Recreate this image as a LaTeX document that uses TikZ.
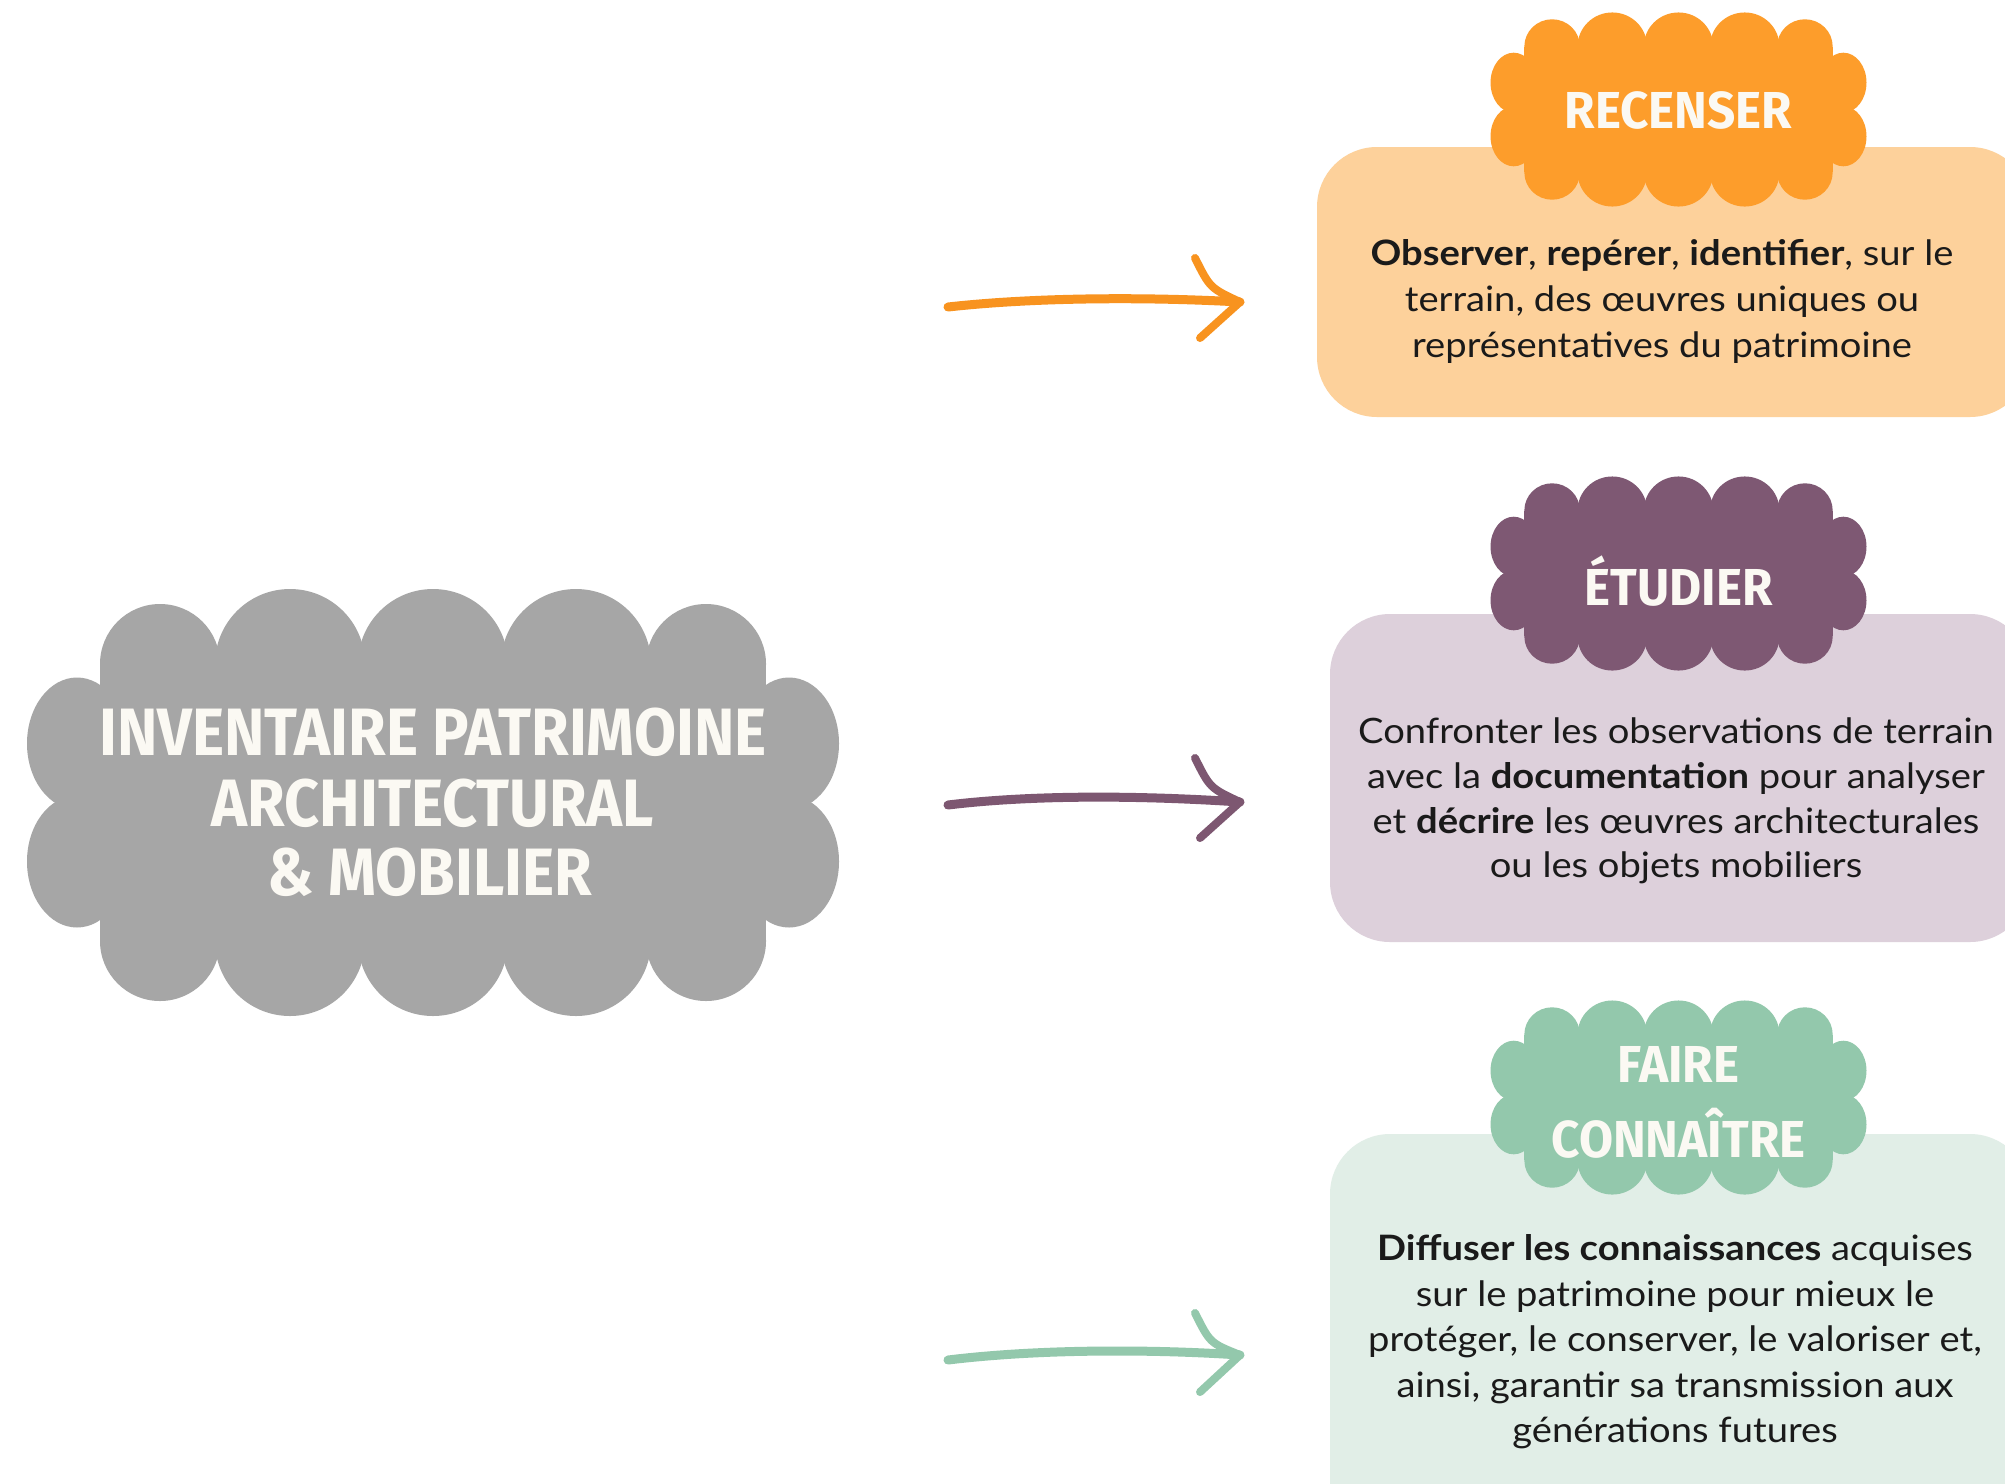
\documentclass[tikz,border=0pt]{standalone}
\usepackage{fontspec}
\usetikzlibrary{calc}
\newfontfamily\headfont[FakeStretch=0.91]{Fira Sans}
\newfontfamily\headfontsm[FakeStretch=0.95]{Fira Sans}
\newfontfamily\bodyfont[FakeStretch=1.09]{Lato}
\definecolor{grayc}{HTML}{A6A6A6}
\definecolor{offw}{HTML}{FBF9F3}
\definecolor{orC}{HTML}{FD9D2B}
\definecolor{orB}{HTML}{FDD19B}
\definecolor{orA}{HTML}{F8931F}
\definecolor{puC}{HTML}{7E5873}
\definecolor{puB}{HTML}{DDD0DB}
\definecolor{puA}{HTML}{7D5771}
\definecolor{grC}{HTML}{93C8AC}
\definecolor{grB}{HTML}{E1EEE7}
\definecolor{grA}{HTML}{93C8AC}
\definecolor{txt}{HTML}{1A1A1A}
\newcommand\cloudfill[1]{%
  \foreach \cx in {-143,0,143}{%
    \fill[#1] (\cx,-138.5) circle[radius=75];
    \fill[#1] (\cx,138.5) circle[radius=75];}
  \foreach \cx in {-273,273}{%
    \fill[#1] (\cx,-138.5) circle[radius=60];
    \fill[#1] (\cx,138.5) circle[radius=60];}
  \foreach \cx in {-356,356}{%
    \fill[#1] (\cx,-59) ellipse[x radius=50,y radius=66];
    \fill[#1] (\cx,59) ellipse[x radius=50,y radius=66];}
  \fill[#1] (-333,-138.5) rectangle (333,138.5);
  \fill[#1] (-356,-59) rectangle (356,59);
}
\begin{document}
\begin{tikzpicture}[x=0.5pt,y=-0.5pt,
  headbig/.style={font=\headfont\bfseries\fontsize{33.5}{35}\selectfont, text=offw, inner sep=0pt, anchor=base},
  headsm/.style={font=\headfontsm\bfseries\fontsize{26}{30}\selectfont, text=offw, inner sep=0pt, anchor=base},
  bodyline/.style={font=\bodyfont\fontsize{17.5}{22}\selectfont, text=txt, inner sep=0pt, anchor=base},
  arrowline/.style={line width=4.5pt, line cap=round, line join=round},
  arrowhead/.style={line width=4pt, line cap=round, line join=round}]
\useasboundingbox (0,0) rectangle (2005,1483);
\clip (0,0) rectangle (2005,1483);
\fill[white] (0,0) rectangle (2005,1483);

% boxes
\fill[orB, rounded corners=30pt] (1317,147) rectangle (2030,417);
\fill[puB, rounded corners=30pt] (1330,614) rectangle (2030,942);
\fill[grB, rounded corners=30pt] (1330,1134) rectangle (2030,1560);

% clouds
\begin{scope}[shift={(433,802.5)}]\cloudfill{grayc}\end{scope}
\begin{scope}[shift={(1678.5,109.5)}, xscale=0.463, yscale=0.4545]\cloudfill{orC}\end{scope}
\begin{scope}[shift={(1678.5,573.5)}, xscale=0.463, yscale=0.4545]\cloudfill{puC}\end{scope}
\begin{scope}[shift={(1678.5,1097.5)}, xscale=0.463, yscale=0.4545]\cloudfill{grC}\end{scope}

% main title
\node[headbig] (t1) at (433,755) {INVENTAIRE PATRIMOINE};
\node[headbig] (t2) at (433,826) {ARCHITECTURAL};
\node[headbig] (t3) at (430,895) {\& MOBILIER};

% headings
\node[headsm] (h1) at (1678.5,128) {RECENSER};
\node[headsm] (h2) at (1678.5,605) {ÉTUDIER};
\node[headsm] (h3a) at (1678.5,1082) {FAIRE};
\node[headsm] (h3b) at (1678.5,1157) {CONNAÎTRE};

% texts
\node[bodyline] (o1) at (1662,265) {\textbf{Observer}, \textbf{repérer}, \textbf{identifier}, sur le};
\node[bodyline] (o2) at (1662,311) {terrain, des œuvres uniques ou};
\node[bodyline] (o3) at (1662,357) {représentatives du patrimoine};

\node[bodyline] (p1) at (1676,743) {Confronter les observations de terrain};
\node[bodyline] (p2) at (1676,788) {avec la \textbf{documentation} pour analyser};
\node[bodyline] (p3) at (1676,833) {et \textbf{décrire} les œuvres architecturales};
\node[bodyline] (p4) at (1676,877) {ou les objets mobiliers};

\node[bodyline] (g1) at (1675,1260) {\textbf{Diffuser les connaissances} acquises};
\node[bodyline] (g2) at (1675,1306) {sur le patrimoine pour mieux le};
\node[bodyline] (g3) at (1675,1351) {protéger, le conserver, le valoriser et,};
\node[bodyline] (g4) at (1675,1397) {ainsi, garantir sa transmission aux};
\node[bodyline] (g5) at (1675,1442) {générations futures};

% arrows
\coordinate (a1s) at (948,307);
\coordinate (a1e) at (1240,302);
\coordinate (a1u) at (1195,258);
\coordinate (a1l) at (1200,338);
\coordinate (a2s) at (948,805);
\coordinate (a2e) at (1240,802);
\coordinate (a2u) at (1195,758);
\coordinate (a2l) at (1200,838);
\coordinate (a3s) at (948,1360);
\coordinate (a3e) at (1240,1355);
\coordinate (a3u) at (1195,1313);
\coordinate (a3l) at (1200,1392);

\draw[arrowline, orA] (a1s) .. controls ($(a1s)+(90,-10)$) and ($(a1e)+(-90,-5)$) .. (a1e);
\draw[arrowhead, orA] (a1u) .. controls ($(a1u)+(15,30)$) .. (a1e) -- (a1l);
\draw[arrowline, puA] (a2s) .. controls ($(a2s)+(90,-11)$) and ($(a2e)+(-90,-6)$) .. (a2e);
\draw[arrowhead, puA] (a2u) .. controls ($(a2u)+(15,30)$) .. (a2e) -- (a2l);
\draw[arrowline, grA] (a3s) .. controls ($(a3s)+(90,-11)$) and ($(a3e)+(-90,-6)$) .. (a3e);
\draw[arrowhead, grA] (a3u) .. controls ($(a3u)+(15,30)$) .. (a3e) -- (a3l);
\end{tikzpicture}
\end{document}
